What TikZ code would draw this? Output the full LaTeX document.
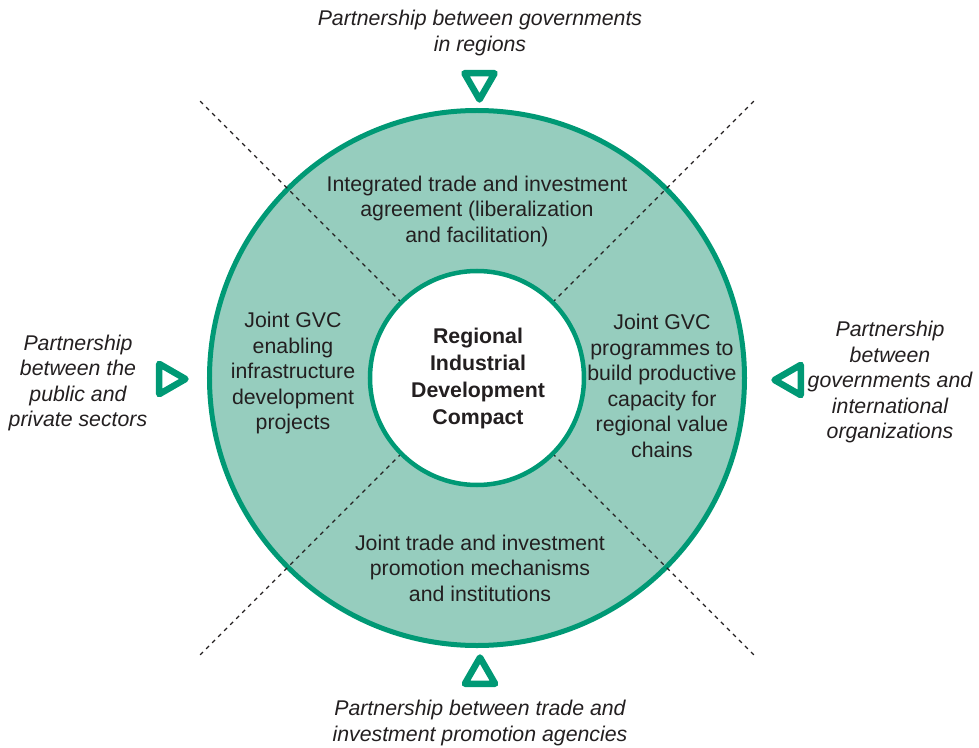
\documentclass[tikz,border=0pt]{standalone}
\usepackage{fontspec}
\setmainfont{Liberation Sans}
\usetikzlibrary{shapes.geometric}
\definecolor{ringgreen}{RGB}{0,153,117}
\definecolor{ringfill}{RGB}{150,205,190}
\definecolor{inkgray}{RGB}{35,31,32}
\tikzset{
	marker/.style={draw=ringgreen, line width=6.5pt, line join=round, regular polygon, regular polygon sides=3, minimum size=35pt, inner sep=0pt},
	ringtext/.style={align=center, text=inkgray, font=\fontsize{21.3}{25.5}\selectfont},
	parttext/.style={align=center, text=inkgray, font=\fontsize{21.3}{25.5}\selectfont\itshape}
}
\begin{document}
\begin{tikzpicture}[x=1pt, y=1pt]
		\pgfmathsetmacro{\rout}{267.5}
		\pgfmathsetmacro{\rin}{107}
		\pgfmathsetmacro{\rdash}{395}
		\useasboundingbox (-477,-369) rectangle (502,378);
		
		\fill[ringfill] (0,0) circle (\rout);
		\draw[ringgreen, line width=5pt] (0,0) circle (\rout);
		\foreach \ang in {45,135,225,315}
			\draw[dash pattern=on 4pt off 4.5pt, line width=1.3pt, inkgray] (\ang:\rin) -- (\ang:\rdash);
		\node[circle, fill=white, draw=ringgreen, line width=4.5pt, minimum size=214pt, inner sep=0pt] (compact) at (0,0) {};
		\node[ringtext, font=\fontsize{21.3}{27}\selectfont\bfseries] (title) at (1,0) {Regional\\Industrial\\Development\\Compact};
		
		% the four parts of the ring
		\node[ringtext] (trade) at (0,167) {Integrated trade and investment\\agreement (liberalization\\and facilitation)};
		\node[ringtext] (infra) at (-184,5) {Joint GVC\\enabling\\infrastructure\\development\\projects};
		\node[ringtext] (capacity) at (185,-8) {Joint GVC\\programmes to\\build productive\\capacity for\\regional value\\chains};
		\node[ringtext] (promo) at (3,-190) {Joint trade and investment\\promotion mechanisms\\and institutions};
		
		% partnerships round the ring
		\node[marker, shape border rotate=180] (tritop) at (2.5,296) {};
		\node[marker, shape border rotate=270] (trileft) at (-309,-1) {};
		\node[marker, shape border rotate=90] (triright) at (315,-2) {};
		\node[marker] (tribottom) at (3,-297) {};
		\node[parttext] (govs) at (3,345) {Partnership between governments\\in regions};
		\node[parttext] (sectors) at (-399,-5) {Partnership\\between the\\public and\\private sectors};
		\node[parttext] (intl) at (413,-4) {Partnership\\between\\governments and\\international\\organizations};
		\node[parttext] (agencies) at (3,-345) {Partnership between trade and\\investment promotion agencies};
	\end{tikzpicture}
\end{document}
